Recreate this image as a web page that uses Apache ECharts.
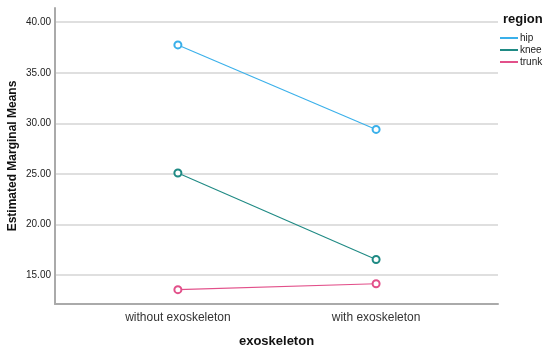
<!DOCTYPE html>
<html>
<head>
<meta charset="utf-8">
<script src="https://cdn.jsdelivr.net/npm/echarts@6/dist/echarts.min.js"></script>
<style>
  html, body { margin: 0; padding: 0; background: #fff; }
  #chart { width: 550px; height: 350px; }
</style>
</head>
<body>
<div id="chart"></div>
<script>
var categories = ['without exoskeleton', 'with exoskeleton']
var regions = ['hip', 'knee', 'trunk']
var hipValues = [37.75, 29.4]
var kneeValues = [25.1, 16.55]
var trunkValues = [13.57, 14.15]
var yTicks = [15, 20, 25, 30, 35, 40]
var colors = ['#3ab0ea', '#1f8a84', '#e2508a']

var chart = echarts.init(document.getElementById('chart'))

function pts (vals) {
  return vals.map(function (v, i) { return [i, v] })
}

var seriesData = [hipValues, kneeValues, trunkValues]

chart.setOption({
  animation: false,
  color: colors,
  textStyle: { fontFamily: 'Liberation Sans, Arial, sans-serif' },
  grid: { left: 55, right: 52, top: 8, bottom: 46, containLabel: false, outerBoundsMode: 'none' },
  legend: {
    orient: 'vertical',
    left: 495,
    top: 27,
    itemWidth: 18,
    itemHeight: 2,
    itemGap: 0,
    icon: 'rect',
    textStyle: { fontSize: 10, color: '#222', padding: [0, 0, 0, -3], lineHeight: 12 },
    data: regions
  },
  title: {
    text: 'region',
    left: 498,
    top: 8,
    textStyle: { fontSize: 13, fontWeight: 'bold', color: '#111' }
  },
  xAxis: {
    type: 'value',
    min: -0.62,
    max: 1.615,
    name: 'exoskeleton',
    nameLocation: 'middle',
    nameGap: 31,
    nameMoveOverlap: false,
    nameTextStyle: { fontSize: 13, fontWeight: 'bold', color: '#111' },
    axisLine: { onZero: false, lineStyle: { color: '#aaaaaa', width: 2 } },
    axisTick: { show: false },
    splitLine: { show: false },
    axisLabel: {
      customValues: [0, 1],
      fontSize: 12,
      color: '#333',
      margin: 8,
      formatter: function (v) { return categories[Math.round(v)] }
    }
  },
  yAxis: {
    type: 'value',
    min: 12.15,
    max: 41.4,
    name: 'Estimated Marginal Means',
    nameLocation: 'middle',
    nameGap: 36,
    nameMoveOverlap: false,
    nameTextStyle: { fontSize: 12, fontWeight: 'bold', color: '#111' },
    axisLine: { show: true, onZero: false, lineStyle: { color: '#aaaaaa', width: 2 } },
    axisTick: { show: false, customValues: yTicks },
    axisLabel: {
      customValues: yTicks,
      fontSize: 10,
      color: '#222',
      margin: 4,
      formatter: function (v) { return v.toFixed(2) }
    },
    splitLine: { show: true, lineStyle: { color: '#d4d4d4', width: 1.5 } }
  },
  series: regions.map(function (r, i) {
    return {
      name: r,
      type: 'line',
      data: pts(seriesData[i]),
      symbol: 'emptyCircle',
      symbolSize: 7,
      lineStyle: { width: 1.1 },
      itemStyle: { borderWidth: 1.3 }
    }
  })
})
</script>
</body>
</html>
